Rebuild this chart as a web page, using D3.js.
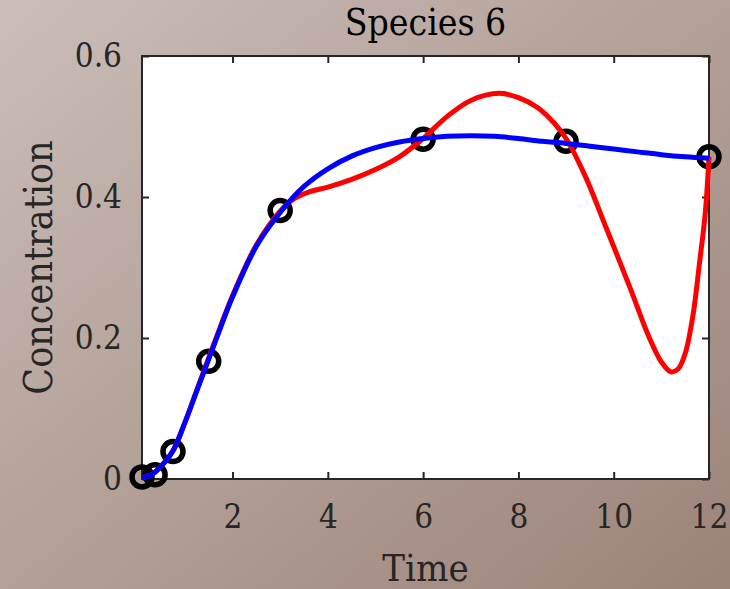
<!DOCTYPE html>
<html>
<head>
<meta charset="utf-8">
<script src="https://cdn.jsdelivr.net/npm/d3@7"></script>
<style>
  html, body { margin: 0; padding: 0; }
  svg { display: block; }
  text { font-family: "DejaVu Serif Condensed", "DejaVu Serif", serif; font-stretch: condensed; fill: #262626; }
</style>
</head>
<body>
<script>
// ---- data ----
const title = "Species 6";
const xLabel = "Time";
const yLabel = "Concentration";
const xTicks = [2, 4, 6, 8, 10, 12];
const yTicks = [0, 0.2, 0.4, 0.6];

const obsTime = [0.1, 0.375, 0.75, 1.5, 3, 6, 9, 12];
const obsConc = [0.003, 0.006, 0.039, 0.167, 0.381, 0.482, 0.479, 0.457];

const fitTime = [0.1, 0.3, 0.5, 0.75, 1.0, 1.25, 1.5, 1.75, 2.0, 2.5, 3.0, 3.5, 4.0, 4.5, 5.0, 5.5, 6.0, 6.5, 7.0, 7.5, 8.0, 8.5, 9.0, 9.5, 10.0, 10.5, 11.0, 11.5, 12.0];
const fitConc = [0.002, 0.006, 0.018, 0.04, 0.08, 0.125, 0.17, 0.215, 0.258, 0.33, 0.378, 0.415, 0.44, 0.458, 0.47, 0.478, 0.483, 0.486, 0.487, 0.486, 0.483, 0.479, 0.476, 0.472, 0.468, 0.464, 0.46, 0.457, 0.455];

const interpTime = [0.1, 0.3, 0.5, 0.75, 1.0, 1.25, 1.5, 1.75, 2.0, 2.5, 3.0, 3.3, 3.6, 4.0, 4.5, 5.0, 5.5, 6.0, 6.5, 7.0, 7.6, 8.0, 8.4, 8.75, 9.0, 9.4, 9.85, 10.35, 10.75, 11.0, 11.2, 11.35, 11.5, 11.67, 11.8, 11.92, 12.0];
const interpConc = [0.002, 0.006, 0.018, 0.04, 0.08, 0.126, 0.172, 0.217, 0.26, 0.332, 0.38, 0.398, 0.407, 0.414, 0.425, 0.439, 0.457, 0.483, 0.514, 0.537, 0.547, 0.541, 0.527, 0.505, 0.483, 0.43, 0.355, 0.27, 0.2, 0.166, 0.152, 0.156, 0.178, 0.235, 0.306, 0.376, 0.457];

// ---- layout ----
const W = 730, H = 589;
const m = { left: 142, right: 709, top: 56, bottom: 479 };

const svg = d3.select("body").append("svg").attr("width", W).attr("height", H);
const defs = svg.append("defs");
const grad = defs.append("linearGradient").attr("id", "bg")
  .attr("x1", "0%").attr("y1", "0%").attr("x2", "100%").attr("y2", "100%");
grad.append("stop").attr("offset", "0%").attr("stop-color", "#cbbdb9");
grad.append("stop").attr("offset", "50%").attr("stop-color", "#b3a097");
grad.append("stop").attr("offset", "100%").attr("stop-color", "#9c8379");
svg.append("rect").attr("width", W).attr("height", H).attr("fill", "url(#bg)");

const x = d3.scaleLinear().domain([0.1, 12]).range([m.left, m.right]);
const y = d3.scaleLinear().domain([0, 0.6]).range([m.bottom, m.top]);

svg.append("rect").attr("x", m.left).attr("y", m.top)
  .attr("width", m.right - m.left).attr("height", m.bottom - m.top)
  .attr("fill", "#ffffff");

// axes with inward ticks on all four sides
const axisColor = "#262626";
function styleAxis(g) {
  g.selectAll("path.domain").remove();
  g.selectAll(".tick line").attr("stroke", axisColor).attr("stroke-width", 2);
  g.selectAll(".tick text").attr("fill", axisColor).style("font-size", "33px");
}
const fmtY = d => d === 0 ? "0" : d3.format(".1f")(d);

svg.append("g").attr("transform", `translate(0,${m.bottom})`)
  .call(d3.axisBottom(x).tickValues(xTicks).tickSize(-7).tickPadding(26).tickFormat(d3.format("d")))
  .call(styleAxis);
svg.append("g").attr("transform", `translate(0,${m.top})`)
  .call(d3.axisTop(x).tickValues(xTicks).tickSize(-7).tickFormat(""))
  .call(styleAxis);
svg.append("g").attr("transform", `translate(${m.left},0)`)
  .call(d3.axisLeft(y).tickValues(yTicks).tickSize(-7).tickPadding(20).tickFormat(fmtY))
  .call(styleAxis);
svg.append("g").attr("transform", `translate(${m.right},0)`)
  .call(d3.axisRight(y).tickValues(yTicks).tickSize(-7).tickFormat(""))
  .call(styleAxis);

svg.append("rect").attr("x", m.left).attr("y", m.top)
  .attr("width", m.right - m.left).attr("height", m.bottom - m.top)
  .attr("fill", "none").attr("stroke", axisColor).attr("stroke-width", 2);

// observed points
svg.append("g").selectAll("circle").data(obsTime.map((t, i) => [t, obsConc[i]]))
  .join("circle")
  .attr("cx", d => x(d[0])).attr("cy", d => y(d[1])).attr("r", 10)
  .attr("fill", "none").attr("stroke", "#000").attr("stroke-width", 5.5);

const line = d3.line().x(d => x(d[0])).y(d => y(d[1])).curve(d3.curveCatmullRom.alpha(0.5));
svg.append("path").datum(interpTime.map((t, i) => [t, interpConc[i]]))
  .attr("d", line).attr("fill", "none").attr("stroke", "#ff0000")
  .attr("stroke-width", 5).attr("stroke-linejoin", "round");
svg.append("path").datum(fitTime.map((t, i) => [t, fitConc[i]]))
  .attr("d", line).attr("fill", "none").attr("stroke", "#0000ff")
  .attr("stroke-width", 5).attr("stroke-linejoin", "round");

// labels
const cx = (m.left + m.right) / 2, cy = (m.top + m.bottom) / 2;
svg.append("text").attr("x", cx).attr("y", 35).attr("text-anchor", "middle")
  .style("font-size", "37px").style("fill", "#000").text(title);
svg.append("text").attr("x", cx).attr("y", 581).attr("text-anchor", "middle")
  .style("font-size", "38px").text(xLabel);
svg.append("text").attr("transform", `translate(52,${cy}) rotate(-90)`)
  .attr("text-anchor", "middle").style("font-size", "39px").text(yLabel);
</script>
</body>
</html>
